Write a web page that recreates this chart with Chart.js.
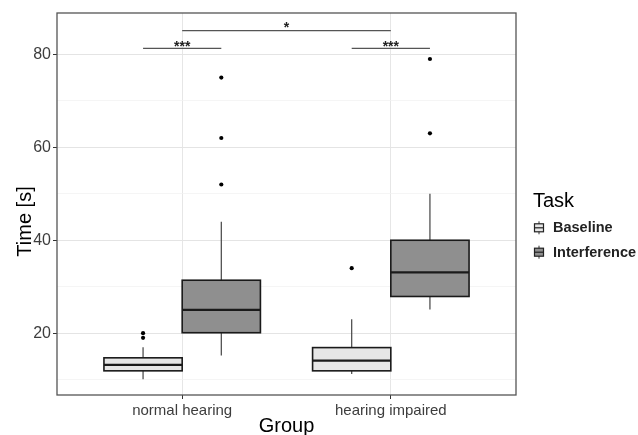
<!DOCTYPE html>
<html><head><meta charset="utf-8">
<script src="https://cdn.jsdelivr.net/npm/chart.js@4"></script>
<style>html,body{margin:0;padding:0;background:#fff}#wrap{width:638px;height:435px;position:relative}</style>
</head><body><div id="wrap"><canvas id="c" width="638" height="435"></canvas></div>
<script>
const categories = ['normal hearing', 'hearing impaired'];
const tasks = ['Baseline', 'Interference'];
// [lower whisker, Q1, median, Q3, upper whisker] per group
const baselineBox = [[10.1, 11.9, 13.2, 14.7, 17.0], [11.2, 11.9, 14.1, 16.9, 23.0]];
const interferenceBox = [[15.2, 20.1, 25.0, 31.4, 44.0], [25.1, 27.9, 33.1, 40.0, 50.0]];
const baselineOutliers = [[20, 19], [34]];
const interferenceOutliers = [[75, 62, 52], [79, 63]];
const yTickValues = [20, 40, 60, 80];
const yMinorValues = [10, 30, 50, 70];
const taskFills = ['#e6e6e6', '#8f8f8f'];
// significance brackets: [group, task] endpoints (task null = group centre)
const sigLabels = ['***', '***', '*'];
const sigLevels = [81.3, 81.3, 85.1];
const sigStart = [[0, 0], [1, 0], [0, null]];
const sigEnd = [[0, 1], [1, 1], [1, null]];

const FONT = "'Liberation Sans', Arial, Helvetica, sans-serif";
const dodge = 0.1875, halfBox = 0.1875;
const xPos = (g, t) => g + 1 + (t === null ? 0 : (t === 0 ? -dodge : dodge));
const boxes = [baselineBox, interferenceBox];

const outlierDatasets = [baselineOutliers, interferenceOutliers].map((arr, t) => ({
  label: tasks[t],
  data: arr.flatMap((vals, g) => vals.map(v => ({x: xPos(g, t), y: v}))),
  pointRadius: 2.1, pointBackgroundColor: '#000', pointBorderWidth: 0, showLine: false
}));

const boxPlugin = {
  id: 'boxes',
  beforeDatasetsDraw(chart) {
    const {ctx, scales: {x, y}, chartArea: a} = chart;
    ctx.save();
    ctx.beginPath(); ctx.rect(a.left, a.top, a.right - a.left, a.bottom - a.top); ctx.clip();
    boxes.forEach((set, t) => set.forEach((s, g) => {
      const cx = x.getPixelForValue(xPos(g, t));
      const l = x.getPixelForValue(xPos(g, t) - halfBox), r = x.getPixelForValue(xPos(g, t) + halfBox);
      const [lo, q1, md, q3, hi] = s.map(v => y.getPixelForValue(v));
      ctx.strokeStyle = '#444'; ctx.lineWidth = 1.2;
      ctx.beginPath(); ctx.moveTo(cx, hi); ctx.lineTo(cx, q3); ctx.moveTo(cx, q1); ctx.lineTo(cx, lo); ctx.stroke();
      ctx.fillStyle = taskFills[t];
      ctx.fillRect(l, q3, r - l, q1 - q3);
      ctx.strokeStyle = '#1a1a1a'; ctx.lineWidth = 1.6;
      ctx.strokeRect(l, q3, r - l, q1 - q3);
      ctx.lineWidth = 2.2;
      ctx.beginPath(); ctx.moveTo(l, md); ctx.lineTo(r, md); ctx.stroke();
    }));
    ctx.restore();
  },
  afterDraw(chart) {
    const {ctx, scales: {x, y}, chartArea: a} = chart;
    ctx.save();
    // panel border
    ctx.strokeStyle = '#555'; ctx.lineWidth = 1.3;
    ctx.strokeRect(a.left, a.top, a.right - a.left, a.bottom - a.top);
    // significance brackets
    sigLabels.forEach((lab, i) => {
      const x1 = x.getPixelForValue(xPos(sigStart[i][0], sigStart[i][1]));
      const x2 = x.getPixelForValue(xPos(sigEnd[i][0], sigEnd[i][1]));
      const py = y.getPixelForValue(sigLevels[i]);
      ctx.strokeStyle = '#555'; ctx.lineWidth = 1.2;
      ctx.beginPath(); ctx.moveTo(x1, py); ctx.lineTo(x2, py); ctx.stroke();
      ctx.fillStyle = '#222'; ctx.font = 'bold 14px ' + FONT; ctx.textAlign = 'center'; ctx.textBaseline = 'alphabetic';
      ctx.fillText(lab, (x1 + x2) / 2, py + (lab.length > 1 ? 2.5 : 1));
    });
    // axis titles
    ctx.fillStyle = '#000'; ctx.font = '20px ' + FONT; ctx.textAlign = 'center'; ctx.textBaseline = 'alphabetic';
    ctx.fillText('Group', (a.left + a.right) / 2, 432);
    ctx.save(); ctx.translate(31, 221.5); ctx.rotate(-Math.PI / 2); ctx.fillText('Time [s]', 0, 0); ctx.restore();
    // legend
    ctx.textAlign = 'left';
    ctx.fillText('Task', 533, 206.5);
    ctx.font = 'bold 14.5px ' + FONT;
    tasks.forEach((t, i) => {
      const cy = 227.8 + i * 24.4, cx = 539;
      ctx.strokeStyle = '#333'; ctx.lineWidth = 1;
      ctx.beginPath(); ctx.moveTo(cx, cy - 6.5); ctx.lineTo(cx, cy + 6.5); ctx.stroke();
      ctx.fillStyle = taskFills[i];
      ctx.fillRect(534.5, cy - 4, 9, 8);
      ctx.strokeStyle = '#222'; ctx.lineWidth = 1.2;
      ctx.strokeRect(534.5, cy - 4, 9, 8);
      ctx.beginPath(); ctx.moveTo(534.5, cy); ctx.lineTo(543.5, cy); ctx.stroke();
      ctx.fillStyle = '#222';
      ctx.fillText(t, 553, cy + 4.6);
    });
    ctx.restore();
  }
};

new Chart(document.getElementById('c'), {
  type: 'scatter',
  data: {datasets: outlierDatasets},
  options: {
    responsive: false, animation: false,
    layout: {padding: {top: 13, right: 122, left: 0, bottom: 0}},
    plugins: {legend: {display: false}, tooltip: {enabled: false}},
    scales: {
      x: {
        type: 'linear', min: 0.4, max: 2.6,
        afterBuildTicks: s => { s.ticks = categories.map((c, i) => ({value: i + 1})); },
        afterFit: s => { s.height = 40; },
        ticks: {callback: v => categories[v - 1], color: '#3d3d3d', font: {family: FONT, size: 15}, padding: 3, maxRotation: 0, autoSkip: false},
        grid: {color: '#e6e6e6', lineWidth: 1, tickLength: 4, tickColor: '#333'},
        border: {display: false}
      },
      y: {
        min: 6.7, max: 88.9,
        afterBuildTicks: s => { s.ticks = yMinorValues.concat(yTickValues).sort((a, b) => a - b).map(v => ({value: v})); },
        afterFit: s => { s.width = 57; },
        ticks: {callback: v => yTickValues.includes(v) ? String(v) : '', color: '#3d3d3d', font: {family: FONT, size: 16}, padding: 2},
        grid: {
          color: c => yTickValues.includes(c.tick.value) ? '#e4e4e4' : '#f0f0f0',
          lineWidth: c => yTickValues.includes(c.tick.value) ? 1 : 0.7,
          tickColor: c => yTickValues.includes(c.tick.value) ? '#333' : 'rgba(0,0,0,0)',
          tickLength: 4
        },
        border: {display: false}
      }
    }
  },
  plugins: [boxPlugin]
});
</script></body></html>
